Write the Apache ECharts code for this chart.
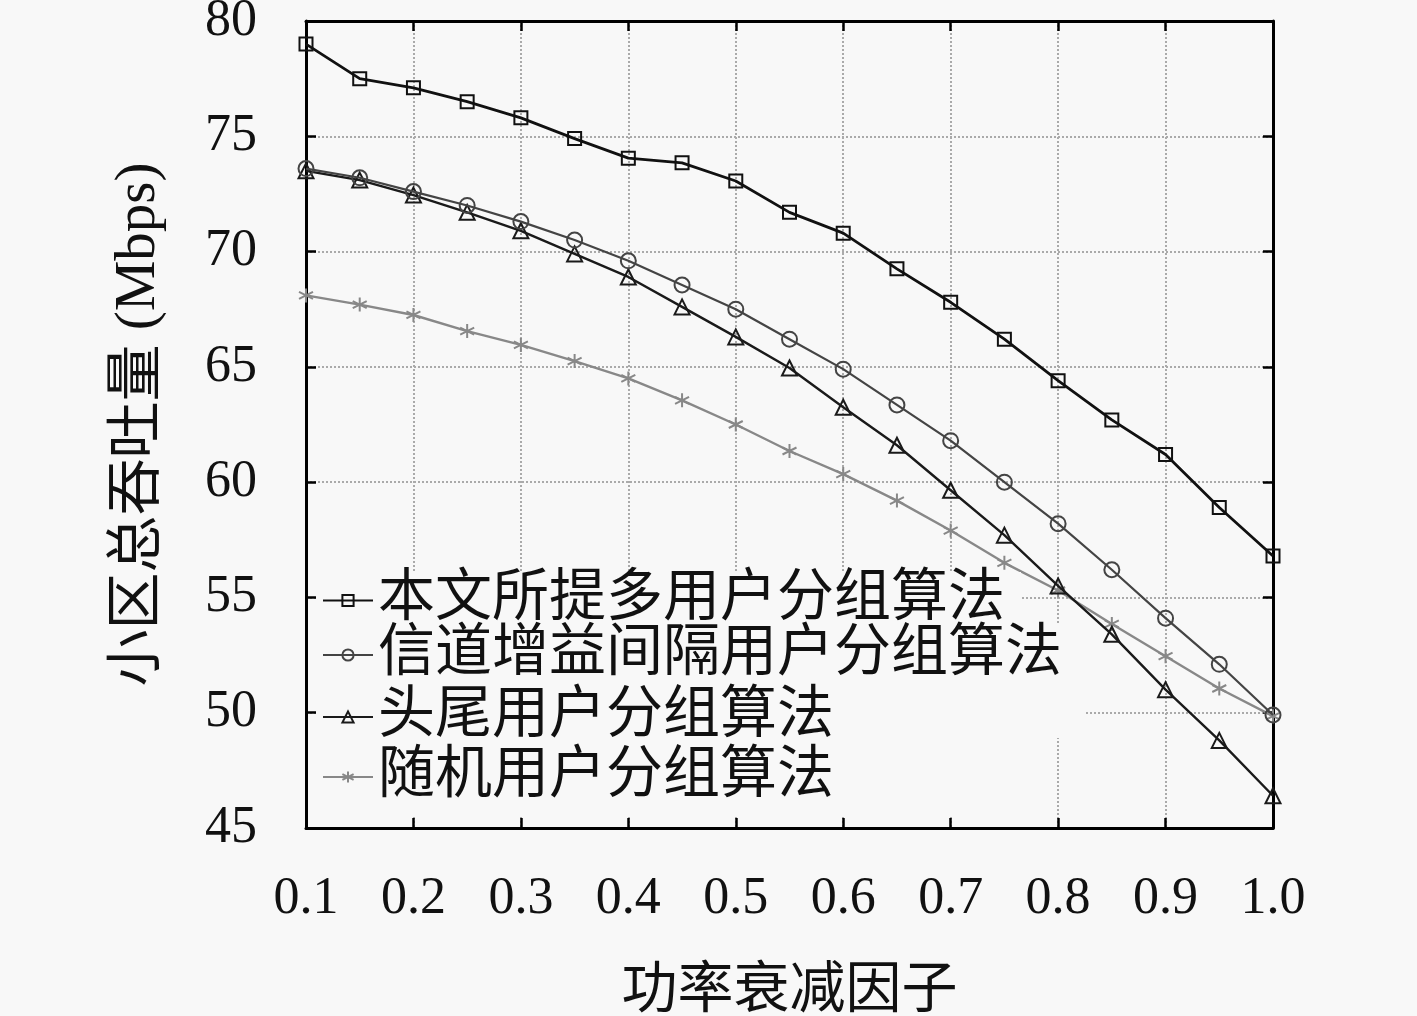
<!DOCTYPE html>
<html>
<head>
<meta charset="utf-8">
<script src="https://cdn.jsdelivr.net/npm/echarts@6/dist/echarts.min.js"></script>
<style>
html,body{margin:0;padding:0;background:#f8f8f8;}
#main{width:1417px;height:1016px;}
</style>
</head>
<body>
<div id="main"></div>
<script>
const xValues = [0.1,0.15,0.2,0.25,0.3,0.35,0.4,0.45,0.5,0.55,0.6,0.65,0.7,0.75,0.8,0.85,0.9,0.95,1.0];
const seriesNames = ['本文所提多用户分组算法','信道增益间隔用户分组算法','头尾用户分组算法','随机用户分组算法'];
const proposed = [79.0,77.5,77.1,76.5,75.8,74.9,74.05,73.85,73.06,71.7,70.8,69.25,67.8,66.2,64.4,62.7,61.2,58.9,56.8];
const gainGap  = [73.6,73.2,72.6,72.0,71.3,70.5,69.6,68.55,67.5,66.2,64.9,63.35,61.8,60.0,58.2,56.2,54.1,52.1,49.9];
const headTail = [73.5,73.1,72.45,71.7,70.9,69.9,68.9,67.6,66.3,64.95,63.25,61.6,59.65,57.7,55.5,53.4,51.0,48.8,46.4];
const randomG  = [68.1,67.7,67.25,66.55,65.95,65.25,64.5,63.55,62.5,61.35,60.35,59.2,57.9,56.5,55.3,53.85,52.45,51.05,49.85];
const xAxisName = '功率衰减因子';
const yAxisName = '小区总吞吐量 (Mbps)';

const bg = '#f8f8f8';
const latin = "'Liberation Serif', 'Noto Sans CJK SC', serif";
const pair = arr => xValues.map((x,i)=>[x,arr[i]]);
const asterisk = 'path://M5,0 L5,10 M0.67,2.5 L9.33,7.5 M0.67,7.5 L9.33,2.5';

function mkSeries(name, data, symbol, size, color, lw, z){
  return {
    name, type:'line', data: pair(data), symbol, symbolSize:size,
    lineStyle:{color, width:lw}, z,
    itemStyle:{color:'rgba(0,0,0,0)', borderColor:color, borderWidth:2},
    emphasis:{disabled:true}, animation:false
  };
}

function mkLegend(name, top, lh, pad){
  return {
    data:[name], left:316, top, orient:'vertical', padding:pad,
    backgroundColor:bg, itemWidth:50, itemHeight:14,
    textStyle:{fontSize:57, lineHeight:lh, color:'#111', fontFamily:latin},
    selectedMode:false
  };
}

const chart = echarts.init(document.getElementById('main'));
chart.setOption({
  backgroundColor: bg,
  animation:false,
  grid:{left:306, right:144, top:21, bottom:188, show:false, containLabel:false, outerBoundsMode:'none'},
  legend:[
    mkLegend(seriesNames[0], 572, 44, [0,16,9,6]),
    mkLegend(seriesNames[1], 624, 62, [0,24,52,6]),
    mkLegend(seriesNames[2], 686, 62, [0,177,0,6]),
    mkLegend(seriesNames[3], 745, 64, [0,177,8,6])
  ],
  xAxis:[{
    type:'value', min:0.1, max:1.0, interval:0.1,
    name:xAxisName, nameLocation:'middle', nameGap:136,
    nameTextStyle:{fontSize:56, color:'#111', fontFamily:latin},
    axisLine:{show:true, onZero:false, lineStyle:{color:'#000', width:3}},
    axisTick:{show:true, inside:true, length:10, lineStyle:{color:'#000', width:2.5}},
    axisLabel:{fontSize:52, color:'#111', fontFamily:latin, margin:45, formatter:v=>v.toFixed(1)},
    splitLine:{show:true, lineStyle:{color:'#aaa', type:'dotted', width:2}}
  },{
    type:'value', min:0.1, max:1.0, interval:0.1, position:'top',
    axisLine:{show:true, onZero:false, lineStyle:{color:'#000', width:3}},
    axisTick:{show:true, inside:true, length:10, lineStyle:{color:'#000', width:2.5}},
    axisLabel:{show:false}, splitLine:{show:false}
  }],
  yAxis:[{
    type:'value', min:45, max:80, interval:5,
    name:yAxisName, nameLocation:'middle', nameGap:138,
    nameTextStyle:{fontSize:57, color:'#111', fontFamily:latin},
    axisLine:{show:true, onZero:false, lineStyle:{color:'#000', width:3}},
    axisTick:{show:true, inside:true, length:10, lineStyle:{color:'#000', width:2.5}},
    axisLabel:{fontSize:52, color:'#111', fontFamily:latin, margin:49},
    splitLine:{show:true, lineStyle:{color:'#aaa', type:'dotted', width:2}}
  },{
    type:'value', min:45, max:80, interval:5, position:'right',
    axisLine:{show:true, onZero:false, lineStyle:{color:'#000', width:3}},
    axisTick:{show:true, inside:true, length:10, lineStyle:{color:'#000', width:2.5}},
    axisLabel:{show:false}, splitLine:{show:false}
  }],
  series:[
    mkSeries(seriesNames[0], proposed, 'rect', 13, '#111', 2.8, 5),
    mkSeries(seriesNames[1], gainGap, 'circle', 15, '#444', 2.2, 4),
    mkSeries(seriesNames[2], headTail, 'triangle', 15, '#1a1a1a', 2.4, 3),
    mkSeries(seriesNames[3], randomG, asterisk, 14, '#888', 2.4, 2)
  ]
});
</script>
</body>
</html>
